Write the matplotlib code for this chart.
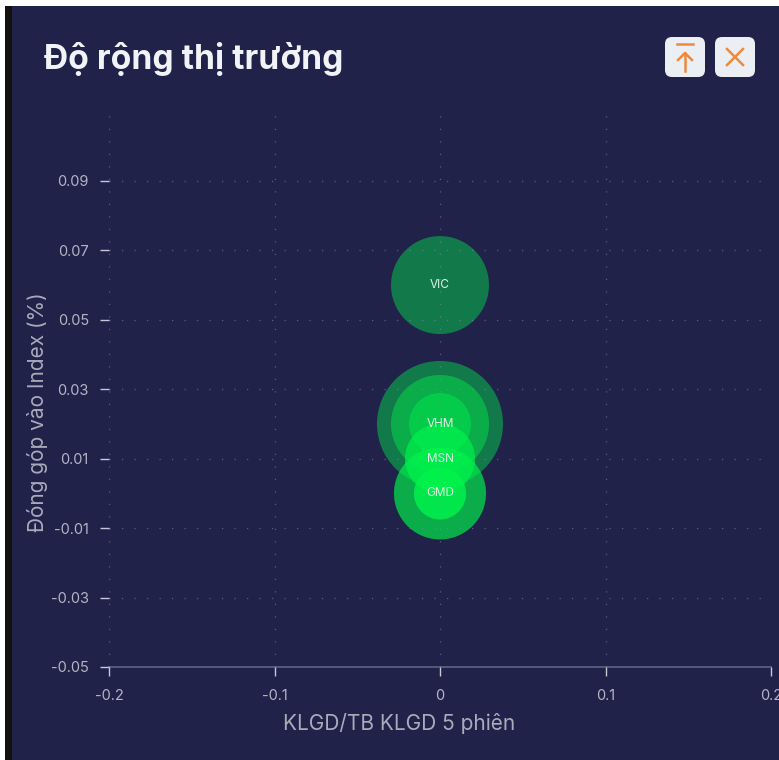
import matplotlib
matplotlib.use("Agg")
import matplotlib.pyplot as plt
from matplotlib.patches import FancyBboxPatch, Rectangle

W, H = 779, 760
NAVY = "#20224a"
plt.rcParams['font.family'] = ['Inter', 'DejaVu Sans']

# Data
title = "Độ rộng thị trường"
x_label = "KLGD/TB KLGD 5 phiên"
y_label = "Đóng góp vào Index (%)"
x_ticks = [-0.2, -0.1, 0, 0.1, 0.2]
y_ticks = [-0.05, -0.03, -0.01, 0.01, 0.03, 0.05, 0.07, 0.09]
tickers = ["VIC", "", "", "VHM", "", "", "", "", "", "MSN", "GMD"]
x_values = [0, 0, 0, 0, 0, 0, 0, 0, 0, 0, 0]
y_values = [0.06, 0.02, 0.02, 0.02, 0.01, 0, 0, 0, 0, 0.01, 0]
bubble_radius = [49, 63, 49, 31, 35, 46, 46, 26, 26, 35, 26]

fig = plt.figure(figsize=(W / 100, H / 100), dpi=100, facecolor="white")

def fx(p): return p / W
def fy(p): return 1 - p / H

# Panel background
fig.add_artist(Rectangle((fx(5), 0), fx(W - 5), fy(6), transform=fig.transFigure, fc="#12110f", ec="none", zorder=-3))
fig.add_artist(Rectangle((fx(12), 0), fx(W - 12), fy(6), transform=fig.transFigure, fc=NAVY, ec="none", zorder=-2))

ax = fig.add_axes([fx(109), fy(667), fx(771 - 109), fy(108) - fy(667)], facecolor="none")
ax.set_xlim(-0.2, 0.2)
ax.set_ylim(-0.05, 0.111)
ax.set_xticks(x_ticks)
ax.set_xticklabels(["-0.2", "-0.1", "0", "0.1", "0.2"])
ax.set_yticks(y_ticks)
ax.set_yticklabels([f"{v:.2f}" for v in y_ticks])
for s in ["top", "right", "left"]:
    ax.spines[s].set_visible(False)
ax.spines["bottom"].set_color("#5f6185")
ax.spines["bottom"].set_linewidth(1.2)
ax.tick_params(axis="x", length=6.5, width=1, color="#c8c9d6", labelcolor="#b4b5c4", labelsize=10.5, pad=9)
ax.tick_params(axis="y", length=6.5, width=1, color="#c8c9d6", labelcolor="#b4b5c4", labelsize=10.5, pad=8)
ax.set_axisbelow(False)
ax.grid(True, color="#8a8ca8", linewidth=0.9, linestyle=(0, (1, 9)), alpha=0.55)

sizes = [(2 * r * 0.72) ** 2 for r in bubble_radius]
ax.scatter(x_values, y_values, s=sizes, color="#00f54b", alpha=0.42, linewidths=0, zorder=2, clip_on=False)
for name, xv, yv in zip(tickers, x_values, y_values):
    if name:
        ax.text(xv, yv, name, ha="center", va="center", color="#dff3e6", fontsize=8.5, zorder=4)

fig.text(fx(44), fy(59), title, color="#f2f3f7", fontsize=24.2, fontweight="bold", va="center", ha="left")
fig.text(fx(399), fy(724), x_label, color="#a9aaba", fontsize=15, ha="center", va="center")
fig.text(fx(38), fy(412), y_label, color="#a9aaba", fontsize=15, rotation=90, ha="center", va="center")

# Header buttons
ov = fig.add_axes([0, 0, 1, 1], facecolor="none")
ov.set_xlim(0, W)
ov.set_ylim(H, 0)
ov.axis("off")
ORANGE = "#ee8a3c"
for x0 in (665, 715):
    ov.add_patch(FancyBboxPatch((x0, 37), 40, 40, boxstyle="round,pad=0,rounding_size=7", fc="#ebeef2", ec="none"))
ov.plot([677, 693], [44, 44], color=ORANGE, lw=1.8)
ov.plot([685, 685], [53, 71], color=ORANGE, lw=1.8)
ov.plot([678, 685, 692], [60, 53, 60], color=ORANGE, lw=1.8)
ov.plot([727, 743], [49, 65], color=ORANGE, lw=1.8)
ov.plot([727, 743], [65, 49], color=ORANGE, lw=1.8)

fig.savefig("out.png", dpi=100, facecolor="white")
